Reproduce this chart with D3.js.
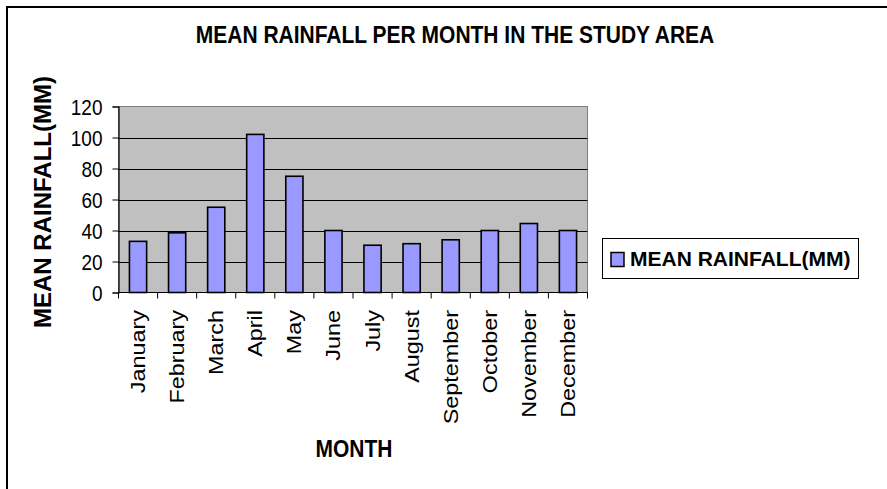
<!DOCTYPE html>
<html>
<head>
<meta charset="utf-8">
<script src="https://cdn.jsdelivr.net/npm/d3@7"></script>
<style>
  html, body { margin: 0; padding: 0; background: #fff; }
  svg { display: block; font-family: "Liberation Sans", Arial, sans-serif; }
</style>
</head>
<body>
<svg id="chart" width="887" height="489"></svg>
<script>
// Monthly mean rainfall (mm)
const months = ["January", "February", "March", "April", "May", "June",
                "July", "August", "September", "October", "November", "December"];
const rainfall = [33, 38.5, 55, 102, 75, 40, 30.5, 31.5, 34, 40, 44.5, 40];
const yTicks = [0, 20, 40, 60, 80, 100, 120];

const chartTitle = "MEAN RAINFALL PER MONTH IN THE STUDY AREA";
const xTitle = "MONTH";
const yTitle = "MEAN RAINFALL(MM)";
const seriesName = "MEAN RAINFALL(MM)";

const svg = d3.select("#chart");
const plot = { left: 118.5, right: 587.5, top: 106.5, bottom: 292.5 };

// outer frame (open on the right and bottom edges)
svg.append("rect")
  .attr("x", 7).attr("y", 7).attr("width", 900).attr("height", 500)
  .attr("fill", "none").attr("stroke", "#000").attr("stroke-width", 2);

const x = d3.scaleBand()
  .domain(months)
  .range([plot.left, plot.right])
  .paddingInner(0.56)
  .paddingOuter(0.28);

const y = d3.scaleLinear()
  .domain([0, 120])
  .range([plot.bottom, plot.top]);

// plot background
svg.append("rect")
  .attr("x", plot.left).attr("y", plot.top)
  .attr("width", plot.right - plot.left).attr("height", plot.bottom - plot.top)
  .attr("fill", "#C0C0C0")
  .attr("stroke", "#808080").attr("stroke-width", 1);

// horizontal gridlines
svg.append("g")
  .selectAll("line")
  .data(yTicks.filter(t => t > 0 && t < 120))
  .join("line")
  .attr("x1", plot.left).attr("x2", plot.right)
  .attr("y1", d => Math.round(y(d)) + 0.5).attr("y2", d => Math.round(y(d)) + 0.5)
  .attr("stroke", "#000").attr("stroke-width", 1);

// bars
svg.append("g")
  .selectAll("rect")
  .data(months)
  .join("rect")
  .attr("x", d => x(d))
  .attr("y", (d, i) => y(rainfall[i]))
  .attr("width", x.bandwidth())
  .attr("height", (d, i) => y(0) - y(rainfall[i]))
  .attr("fill", "#9999FF")
  .attr("stroke", "#000").attr("stroke-width", 1.6);

// y axis
const yAxis = svg.append("g")
  .attr("transform", `translate(${plot.left},0)`)
  .call(d3.axisLeft(y).tickValues(yTicks).tickSize(6).tickPadding(0).tickFormat(d3.format("d")));
yAxis.select(".domain").attr("stroke", "#000").attr("stroke-width", 1.2);
yAxis.selectAll(".tick line").attr("stroke", "#000");
yAxis.selectAll(".tick text").remove();
yAxis.selectAll(".tick").append("text")
  .attr("transform", "translate(-16,0) scale(1,1.2)")
  .attr("dy", "0.36em")
  .attr("text-anchor", "end")
  .attr("fill", "#000")
  .style("font-size", "19px")
  .style("font-family", "Liberation Sans, Arial, sans-serif")
  .text(d => d);

// x axis: ticks sit on the category boundaries
const boundaries = d3.range(months.length + 1).map(i => plot.left + i * x.step());
const xAxisG = svg.append("g");
xAxisG.append("line")
  .attr("x1", plot.left).attr("x2", plot.right)
  .attr("y1", plot.bottom).attr("y2", plot.bottom)
  .attr("stroke", "#000").attr("stroke-width", 1.2);
xAxisG.selectAll("line.tk")
  .data(boundaries)
  .join("line").attr("class", "tk")
  .attr("x1", d => d).attr("x2", d => d)
  .attr("y1", plot.bottom).attr("y2", plot.bottom + 6)
  .attr("stroke", "#000");

// month labels, rotated
svg.append("g")
  .selectAll("text")
  .data(months)
  .join("text")
  .attr("transform", d => `translate(${x(d) + x.bandwidth() / 2 + 7},310) scale(1,1.2) rotate(-90)`)
  .attr("text-anchor", "end")
  .attr("fill", "#000")
  .style("font-size", "19.5px")
  .text(d => d);

// title
svg.append("text")
  .attr("transform", "translate(455,43) scale(1,1.1)")
  .attr("text-anchor", "middle")
  .style("font-size", "21px").style("font-weight", "bold")
  .text(chartTitle);

// axis titles
svg.append("text")
  .attr("transform", "translate(354,457) scale(1,1.12)")
  .attr("text-anchor", "middle")
  .style("font-size", "21px").style("font-weight", "bold")
  .text(xTitle);

svg.append("text")
  .attr("transform", "translate(50.5,202) rotate(-90)")
  .attr("text-anchor", "middle")
  .style("font-size", "24px").style("font-weight", "bold")
  .text(yTitle);

// legend
const legend = svg.append("g");
legend.append("rect")
  .attr("x", 602.5).attr("y", 238.5).attr("width", 256).attr("height", 40)
  .attr("fill", "#fff").attr("stroke", "#000").attr("stroke-width", 1);
legend.append("rect")
  .attr("x", 611).attr("y", 252.5).attr("width", 13).attr("height", 14)
  .attr("fill", "#9999FF").attr("stroke", "#000").attr("stroke-width", 1.5);
legend.append("text")
  .attr("x", 630).attr("y", 266)
  .style("font-size", "21px").style("font-weight", "bold")
  .text(seriesName);
</script>
</body>
</html>
